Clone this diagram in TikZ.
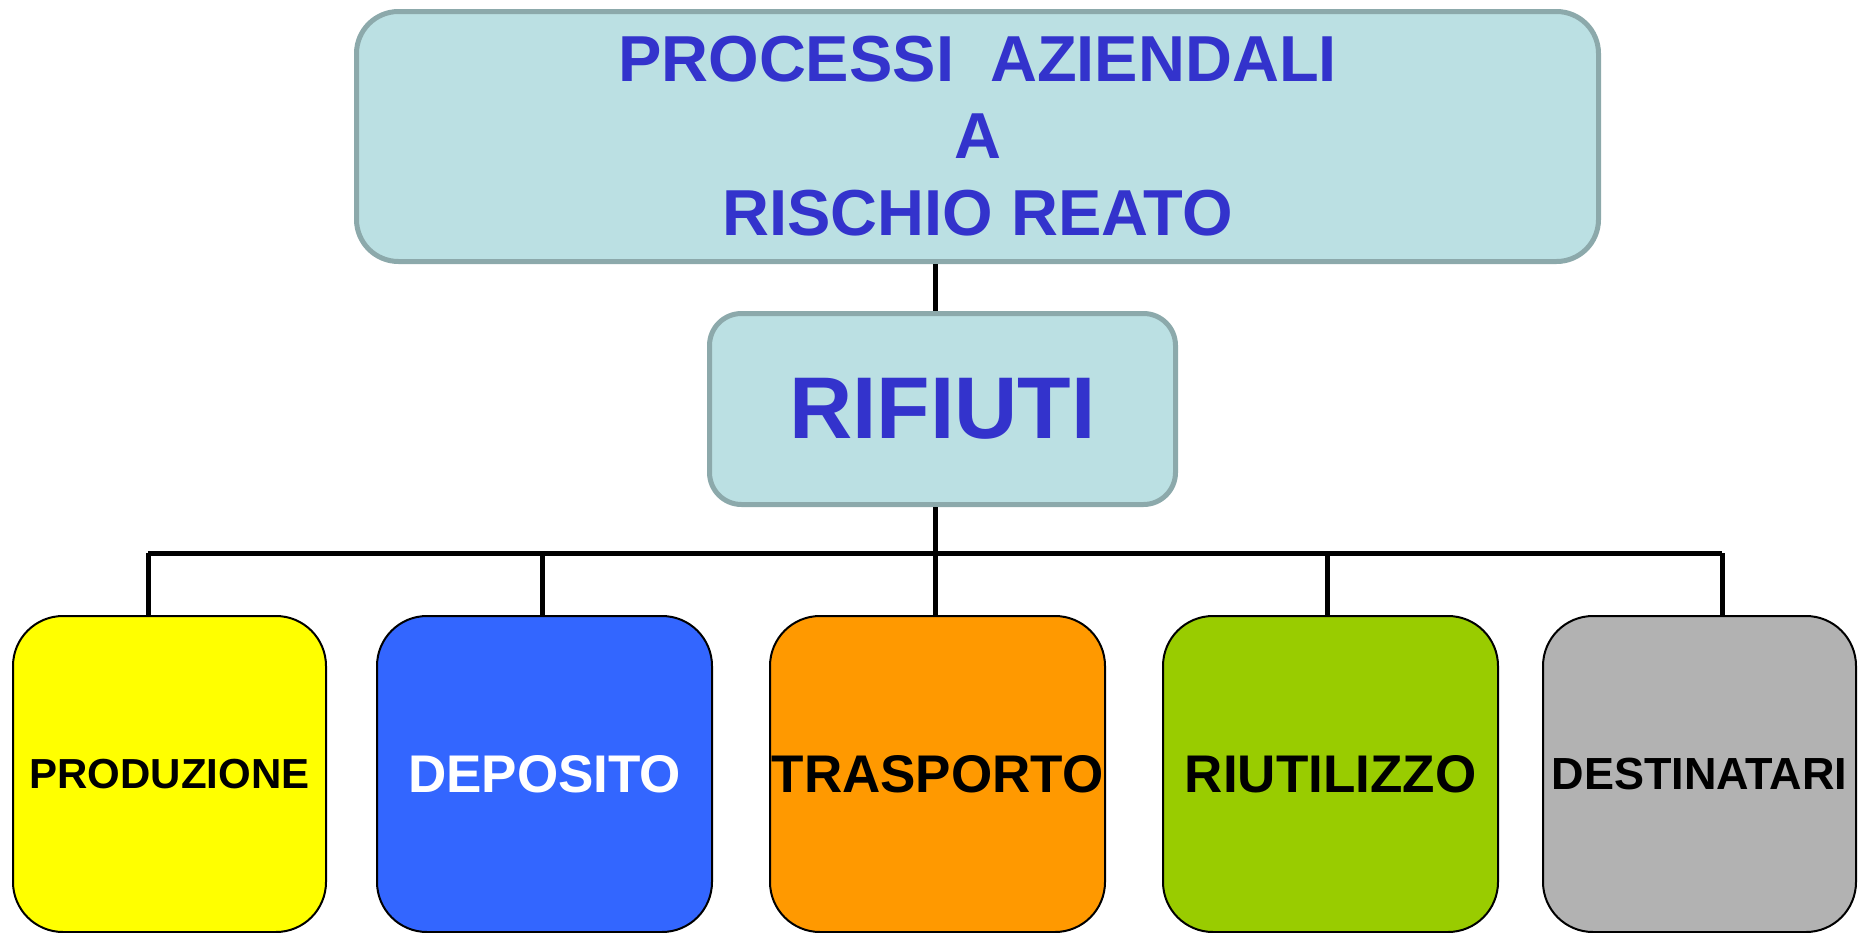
\documentclass[tikz,border=0pt]{standalone}
\usepackage{fontspec}
\setmainfont{Liberation Sans}

\definecolor{titleblue}{HTML}{3333CC}
\definecolor{paleteal}{HTML}{BBE0E3}
\definecolor{tealedge}{HTML}{8CA9AB}
\definecolor{prodyellow}{HTML}{FFFF00}
\definecolor{depblue}{HTML}{3366FF}
\definecolor{trasorange}{HTML}{FF9900}
\definecolor{riugreen}{HTML}{99CC00}
\definecolor{destgray}{HTML}{B2B2B2}

\begin{document}
\begin{tikzpicture}[x=0.5pt,y=-0.5pt,style=thick,
    head/.style={draw=tealedge, line width=2.5pt, fill=paleteal, text=titleblue,
        align=center, inner sep=0pt},
    phase/.style={draw=black, line width=1pt, rounded corners=25pt, inner sep=0pt,
        minimum width=156.5pt, minimum height=158pt,
        font=\bfseries\fontsize{22pt}{26pt}\selectfont},
    wide/.style={minimum width=167.5pt, font=\bfseries\fontsize{26.5pt}{30pt}\selectfont},
    wire/.style={line width=2.5pt}]
    \useasboundingbox (0,0) rectangle (1858,932);

    \coordinate (H) at (935,553);
    \coordinate (C1) at (148,553);
    \coordinate (C2) at (542,553);
    \coordinate (C4) at (1327,553);
    \coordinate (C5) at (1722,553);

    \node[head, minimum width=621pt, minimum height=125pt, rounded corners=21pt,
        font=\bfseries\fontsize{32.5pt}{38.5pt}\selectfont] (T) at (977.5,136.5)
        {PROCESSI\ \ AZIENDALI\\A\\RISCHIO REATO};
    \node[head, minimum width=233pt, minimum height=95.5pt, rounded corners=16pt,
        font=\bfseries\fontsize{43.8pt}{50pt}\selectfont] (R) at (942.5,409) {RIFIUTI};

    \node[phase, fill=prodyellow, font=\bfseries\fontsize{21pt}{25pt}\selectfont] (B1) at (169.5,774) {PRODUZIONE};
    \node[phase, wide, fill=depblue, text=white] (B2) at (544.5,774) {DEPOSITO};
    \node[phase, wide, fill=trasorange] (B3) at (937.5,774) {TRASPORTO};
    \node[phase, wide, fill=riugreen] (B4) at (1330.5,774) {RIUTILIZZO};
    \node[phase, fill=destgray, font=\bfseries\fontsize{22.5pt}{26pt}\selectfont] (B5) at (1699.5,774) {DESTINATARI};

    \draw[wire] (H |- T.south) -- (H |- R.north);
    \draw[wire] (H |- R.south) -- (H |- B3.north);
    \draw[wire] (C1) -- (C5);
    \draw[wire] (C1) -- (C1 |- B1.north);
    \draw[wire] (C2) -- (C2 |- B2.north);
    \draw[wire] (C4) -- (C4 |- B4.north);
    \draw[wire] (C5) -- (C5 |- B5.north);
\end{tikzpicture}
\end{document}
